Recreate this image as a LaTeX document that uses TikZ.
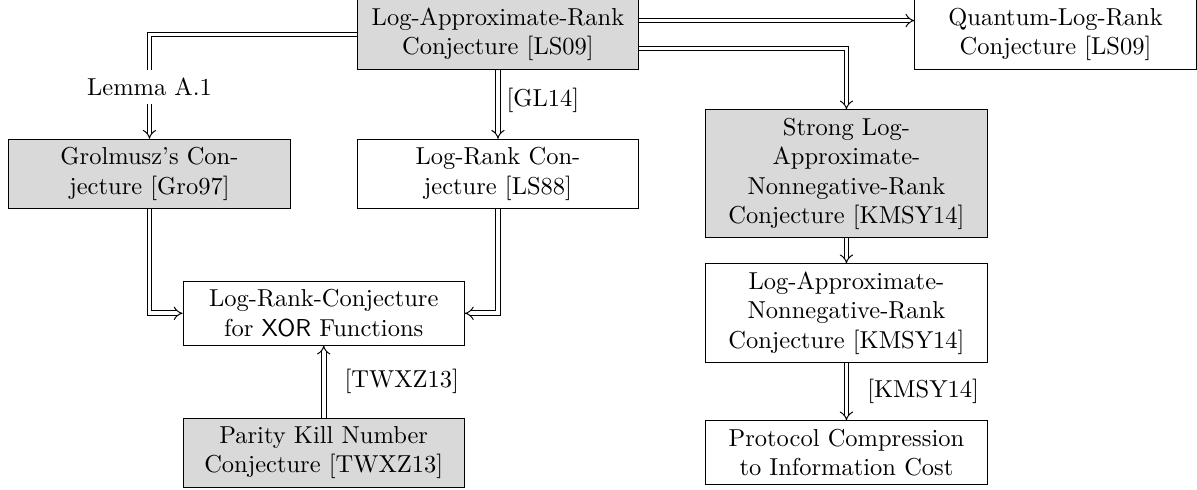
\documentclass[tikz,border=0pt]{standalone}
\usetikzlibrary{arrows}

\begin{document}
\begin{tikzpicture}[
        box/.style={draw, text width=3.8cm, align=center},
        open/.style={box, fill=white},
        conj/.style={box, fill=gray!30},
        imp/.style={double, double distance=1.5pt, -implies},
    ]
        \useasboundingbox (-7.145,-6.535) rectangle (10.03,0.495);

        \node[conj] at (0,0) (lar) {Log-Approximate-Rank Conjecture [LS09]};
        \node[open] at (8,0) (qlr) {Quantum-Log-Rank Conjecture [LS09]};
        \node[conj] at (-5,-2) (gro) {Grolmusz's Conjecture [Gro97]};
        \node[open] at (0,-2) (lr) {Log-Rank Conjecture [LS88]};
        \node[conj] at (5,-2) (slanr) {Strong Log-Approximate-Nonnegative-Rank Conjecture [KMSY14]};
        \node[open] at (-2.5,-4) (xor) {Log-Rank-Conjecture for \textsf{XOR} Functions};
        \node[open] at (5,-4) (lanr) {Log-Approximate-Nonnegative-Rank Conjecture [KMSY14]};
        \node[conj] at (-2.5,-6) (pkn) {Parity Kill Number Conjecture [TWXZ13]};
        \node[open] at (5,-6) (pc) {Protocol Compression to Information Cost};

        \draw [imp] (lar.west) -| (gro.north) node[pos=0.75,fill=white] {Lemma A.1};
        \draw [imp] (lar) -- (lr) node[pos=0.45,right] {[GL14]};
        \draw [imp] ([yshift=0.2cm]lar.east) -- ([yshift=0.2cm]qlr.west);
        \draw [imp] ([yshift=-0.2cm]lar.east) -| (slanr.north);
        \draw [imp] (gro) |- (xor);
        \draw [imp] (lr) |- (xor);
        \draw [imp] (pkn) -- (xor) node[midway,right=5pt] {[TWXZ13]};
        \draw [imp] (slanr) -- (lanr);
        \draw [imp] (lanr) -- (pc) node[midway,right=5pt] {[KMSY14]};
    \end{tikzpicture}
\end{document}
